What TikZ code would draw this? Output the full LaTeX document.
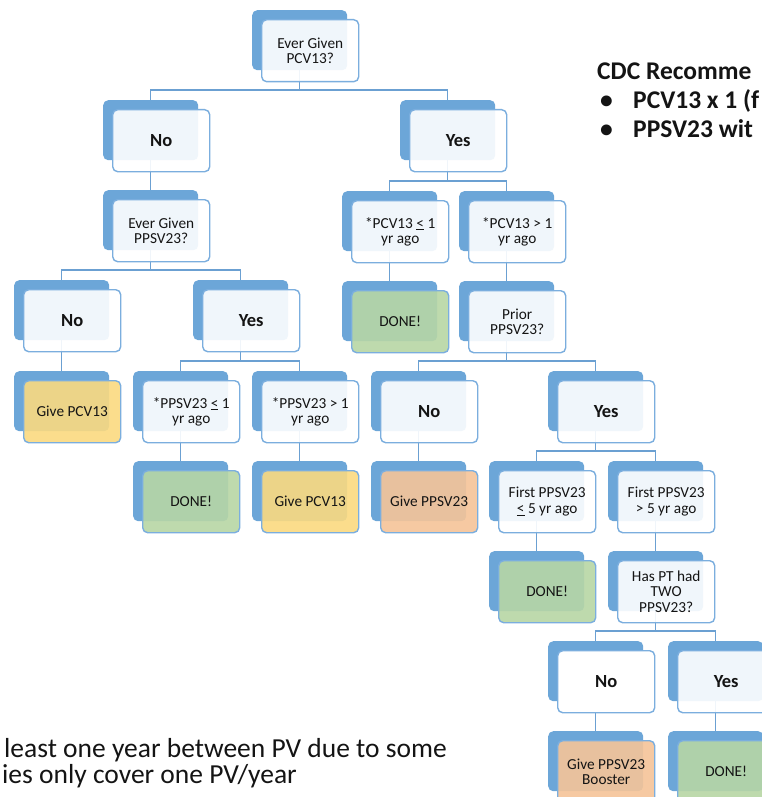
\documentclass[tikz,border=0pt]{standalone}
\usepackage{fontspec}
\setmainfont{Carlito}
\pgfdeclarelayer{bg}
\pgfsetlayers{bg,main}
\definecolor{backblue}{RGB}{108,166,216}
\definecolor{frontborder}{RGB}{123,174,222}
\definecolor{connc}{RGB}{107,160,210}
\definecolor{textc}{RGB}{20,20,20}
\definecolor{ylw}{RGB}{251,218,128}
\definecolor{grn}{RGB}{183,214,165}
\definecolor{org}{RGB}{246,196,152}
\tikzset{
  back/.style={fill=backblue, draw=none, rounded corners=5pt, minimum width=95pt, minimum height=60pt, anchor=north west, inner sep=0pt},
  front/.style={fill=#1, fill opacity=0.9, text opacity=1, draw=frontborder, line width=1.4pt, rounded corners=5pt, minimum width=97pt, minimum height=62pt, anchor=north west, inner sep=0pt, align=center, font=\fontsize{15.3}{15.5}\selectfont, text=textc},
  front/.default=white,
  opaque/.style={fill opacity=1},
  yn/.style={font=\fontsize{18.5}{20}\bfseries\selectfont},
  conn/.style={draw=connc, line width=1.2pt},
  bigtxt/.style={anchor=base west, inner sep=0pt, text=textc},
  cdcfont/.style={font=\fontsize{25.5}{28}\bfseries\selectfont},
  notefont/.style={font=\fontsize{27.5}{28}\selectfont},
}
\newcommand\tbox[6]{%
  \node[back] (#1b) at (#2,#3) {};
  \node[front=#4,#5] (#1) at ([shift={(9,9)}]#1b.north west) {#6};
}
\begin{document}
\begin{tikzpicture}[x=1pt,y=-1pt]
\useasboundingbox (0,0) rectangle (762,797);
\clip (0,0) rectangle (762,797);
% level 0
\tbox{A}{252}{10}{white}{}{Ever Given\\PCV13?}
% left branch
\tbox{Bl}{103}{100}{white}{yn}{No}
\tbox{Cl}{103}{190}{white}{}{Ever Given\\PPSV23?}
\tbox{Dl}{14}{280}{white}{yn}{No}
\tbox{Dr}{193}{280}{white}{yn}{Yes}
\tbox{El}{14}{371}{ylw}{}{Give PCV13}
\tbox{Em}{133}{371}{white}{}{*PPSV23 \underline{<} 1\\yr ago}
\tbox{Er}{252}{371}{white}{}{*PPSV23 > 1\\yr ago}
\tbox{Fm}{133}{461}{grn}{}{DONE!}
\tbox{Fr}{252}{461}{ylw}{}{Give PCV13}
% right branch
\tbox{Br}{400}{100}{white}{yn}{Yes}
\tbox{Rl}{342}{191}{white}{}{*PCV13 \underline{<} 1\\yr ago}
\tbox{Rr}{459}{191}{white}{}{*PCV13 > 1\\yr ago}
\tbox{Sl}{342}{281}{grn}{}{DONE!}
\tbox{Sr}{459}{281}{white}{}{Prior\\PPSV23?}
\tbox{Tl}{371}{371}{white}{yn}{No}
\tbox{Tr}{548}{371}{white}{yn}{Yes}
\tbox{Ul}{371}{461}{org}{}{Give PPSV23}
\tbox{Um}{489}{461}{white}{}{First PPSV23\\\underline{<} 5 yr ago}
\tbox{Ur}{608}{461}{white}{}{First PPSV23\\> 5 yr ago}
\tbox{Vm}{489}{551}{grn}{}{DONE!}
\tbox{Vr}{608}{551}{white}{}{Has PT had\\TWO\\PPSV23?}
\tbox{Wl}{548}{641}{white}{yn,opaque}{No}
\tbox{Wr}{668}{641}{white}{yn}{Yes}
\tbox{Xl}{548}{731}{org}{}{Give PPSV23\\Booster}
\tbox{Xr}{668}{731}{grn}{}{DONE!}
% background and connectors
\begin{pgfonlayer}{bg}
\fill[white] (0,0) rectangle (762,797);
\foreach \p/\c in {A/Bl, A/Br, Bl/Cl, Cl/Dl, Cl/Dr, Dl/El, Dr/Em, Dr/Er, Em/Fm, Er/Fr,
  Br/Rl, Br/Rr, Rl/Sl, Rr/Sr, Sr/Tl, Sr/Tr, Tl/Ul, Tr/Um, Tr/Ur, Um/Vm, Ur/Vr,
  Vr/Wl, Vr/Wr, Wl/Xl, Wr/Xr}
  \draw[conn] (\c b.north) -- ++(0,-10) -| (\p b.center);
\end{pgfonlayer}
% side texts
\node[bigtxt, cdcfont] (cdc) at (597,80) {CDC Recomme};
\node[bigtxt, cdcfont] (bulA) at (600,109) {•};
\node[bigtxt, cdcfont] (recA) at (633,109) {PCV13 x 1 (f};
\node[bigtxt, cdcfont] (bulB) at (600,138) {•};
\node[bigtxt, cdcfont] (recB) at (633,138) {PPSV23 wit};
\node[bigtxt, notefont] (noteA) at (4,757) {least one year between PV due to some};
\node[bigtxt, notefont] (noteB) at (2,783) {ies only cover one PV/year};
\end{tikzpicture}
\end{document}
